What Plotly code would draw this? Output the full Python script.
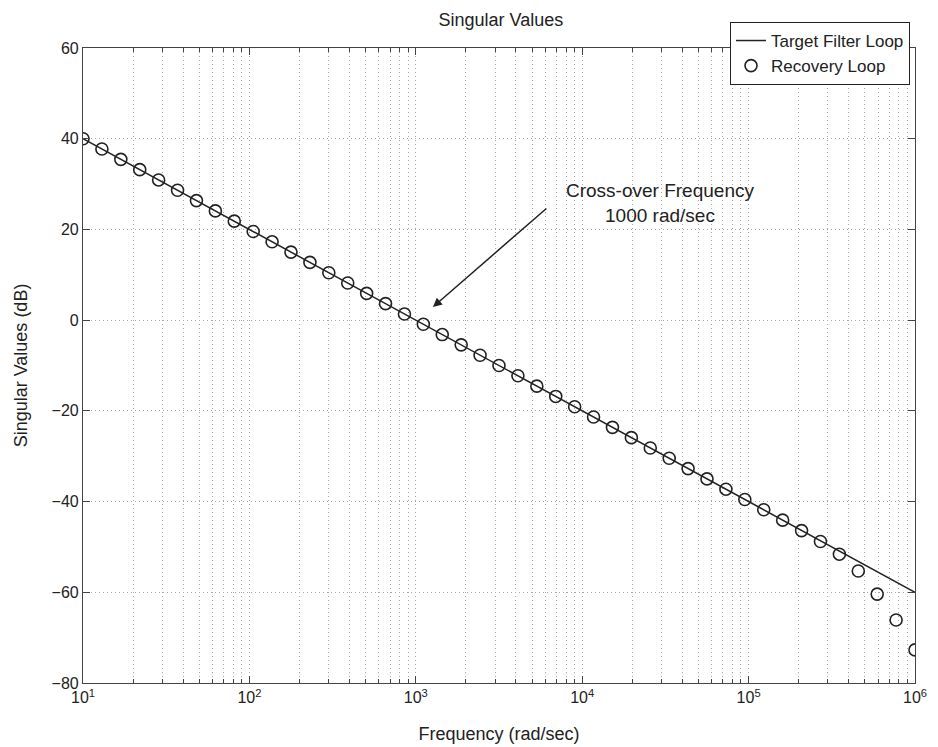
import plotly.graph_objects as go

# ---- data ----
target_freq = [10, 1000000]
target_db = [40, -60]

recovery_freq = [10, 12.99, 16.88, 21.93, 28.48, 37.0, 48.06, 62.44, 81.11, 105.4,
                 136.9, 177.8, 231.0, 300.1, 389.9, 506.5, 657.9, 854.7, 1110, 1442,
                 1874, 2434, 3162, 4108, 5337, 6934, 9007, 11700, 15200, 19750,
                 25650, 33330, 43290, 56230, 73050, 94900, 123300, 160200, 208100, 270300,
                 351200, 456200, 592600, 769900, 1000000]
recovery_db = [40, 37.73, 35.45, 33.18, 30.91, 28.64, 26.36, 24.09, 21.82, 19.55,
               17.27, 15.0, 12.73, 10.45, 8.18, 5.91, 3.64, 1.36, -0.91, -3.18,
               -5.45, -7.73, -10.0, -12.27, -14.55, -16.82, -19.09, -21.36, -23.64, -25.91,
               -28.18, -30.45, -32.73, -35.0, -37.27, -39.55, -41.8, -44.1, -46.4, -48.8,
               -51.6, -55.3, -60.4, -66.1, -72.7]

decades = [1, 2, 3, 4, 5, 6]
y_ticks = [-80, -60, -40, -20, 0, 20, 40, 60]

x_major_vals = [10 ** d for d in decades]
x_major_text = [f"10<sup>{d}</sup>" for d in decades]
x_minor_vals = [m * 10 ** d for d in decades[:-1] for m in range(2, 10)]

FONT = "Liberation Sans, Arial, Helvetica, sans-serif"
INK = "#222222"
GRID = "#a8a8a8"
GRIDDASH = "1px,3px"

fig = go.Figure()
fig.add_trace(go.Scatter(x=target_freq, y=target_db, mode="lines",
                         name="Target Filter Loop",
                         line=dict(color=INK, width=1.5)))
fig.add_trace(go.Scatter(x=recovery_freq, y=recovery_db, mode="markers",
                         name="Recovery Loop",
                         marker=dict(symbol="circle-open", size=12,
                                     color=INK, line=dict(width=1.6, color=INK))))

# annotation: arrow and text
fig.add_annotation(x=3.103, y=2.9, xref="x", yref="y",
                   ax=3.794, ay=24.9, axref="x", ayref="y",
                   text="", showarrow=True, arrowhead=2, arrowsize=1.2,
                   arrowwidth=1.5, arrowcolor=INK)
fig.add_annotation(x=4.47, y=25.8, xref="x", yref="y",
                   text="Cross-over Frequency<br>1000 rad/sec",
                   showarrow=False, align="center",
                   font=dict(family=FONT, size=19, color=INK))

fig.update_layout(
    width=938, height=747,
    margin=dict(l=83, r=23, t=48, b=64),
    paper_bgcolor="white", plot_bgcolor="white",
    font=dict(family=FONT, size=18, color=INK),
    title=dict(text="Singular Values", x=0.534, xanchor="center",
               y=1 - 20 / 747, yanchor="middle",
               font=dict(family=FONT, size=18, color=INK)),
    showlegend=True,
    legend=dict(x=0.994, y=1.041, xanchor="right", yanchor="top",
                bgcolor="white", bordercolor=INK, borderwidth=1,
                font=dict(family=FONT, size=17, color=INK),
                tracegroupgap=0, itemwidth=30),
    xaxis=dict(type="log", range=[1, 6], automargin=False,
               tickmode="array", tickvals=x_major_vals, ticktext=x_major_text,
               showgrid=True, gridcolor=GRID, griddash=GRIDDASH, gridwidth=1,
               ticks="inside", ticklen=7, tickcolor="#444", mirror="ticks",
               minor=dict(tickmode="array", tickvals=x_minor_vals,
                          ticks="inside", ticklen=4, tickcolor="#444",
                          showgrid=True, gridcolor=GRID, griddash=GRIDDASH,
                          gridwidth=1),
               showline=True, linecolor="#444", linewidth=1.2, zeroline=False,
               title=dict(text="Frequency (rad/sec)", standoff=22,
                          font=dict(family=FONT, size=18, color=INK)),
               tickfont=dict(family=FONT, size=16, color=INK)),
    yaxis=dict(range=[-80, 60], tickvals=y_ticks, automargin=False,
               showgrid=True, gridcolor=GRID, griddash=GRIDDASH, gridwidth=1,
               ticks="inside", ticklen=7, tickcolor="#444", mirror="ticks",
               showline=True, linecolor="#444", linewidth=1.2, zeroline=False,
               title=dict(text="Singular Values (dB)", standoff=19,
                          font=dict(family=FONT, size=18, color=INK)),
               tickfont=dict(family=FONT, size=16, color=INK)),
)

fig.write_html("out.html")
